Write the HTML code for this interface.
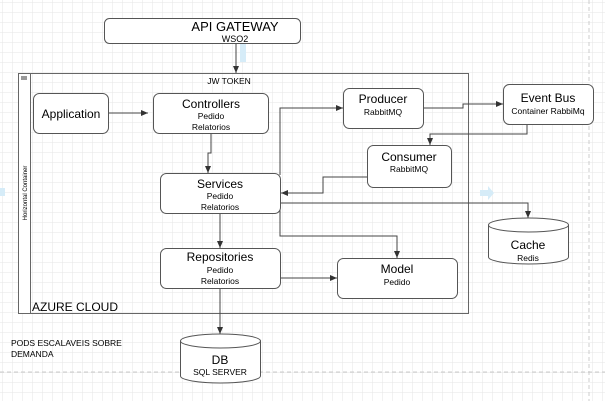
<!DOCTYPE html>
<html><head><style>
body{margin:0;background:#fff;}
svg{display:block;}
text{font-family:"Liberation Sans",sans-serif;fill:#000;}
</style></head><body>
<svg width="605" height="401" viewBox="0 0 605 401" xmlns="http://www.w3.org/2000/svg">
<defs>
<pattern id="g" width="10" height="10" patternUnits="userSpaceOnUse" x="3" y="3">
<path d="M10 0V10H0" fill="none" stroke="#e6e6e6" stroke-width="1"/>
</pattern>
<marker id="a" markerWidth="8" markerHeight="8" refX="7" refY="4" orient="auto" markerUnits="userSpaceOnUse">
<path d="M0,1 L7,4 L0,7 z" fill="#333"/>
</marker>
</defs>
<rect width="605" height="401" fill="url(#g)"/>
<line x1="0" y1="372" x2="605" y2="372" stroke="#ccc" stroke-dasharray="4,3"/>
<line x1="589" y1="0" x2="589" y2="401" stroke="#ccc" stroke-dasharray="4,3"/>
<path d="M480 190h8v-4l6 7-6 7v-4h-8z" fill="#d6ecf8"/>
<rect x="0" y="188" width="5" height="8" fill="#d6ecf8"/>
<rect x="240" y="44" width="6" height="18" fill="#d6ecf8"/>

<!-- container -->
<rect x="18.5" y="73.5" width="450" height="240" fill="none" stroke="#666"/>
<rect x="18.5" y="73.5" width="12" height="240" fill="#fff" stroke="#666"/>
<rect x="21" y="76" width="6" height="4" fill="#999"/>
<text transform="translate(27,193) rotate(-90)" font-size="6" text-anchor="middle">Horizontal Container</text>
<text x="32" y="311" font-size="12">AZURE CLOUD</text>
<text x="229" y="84" font-size="8.5" text-anchor="middle">JW TOKEN</text>

<!-- connectors -->
<g fill="none" stroke="#444" stroke-width="1">
<path d="M236 43V73" marker-end="url(#a)"/>
<path d="M108 113H148" marker-end="url(#a)"/>
<path d="M211 133V153H208V173" marker-end="url(#a)"/>
<path d="M280 175V108H343" marker-end="url(#a)"/>
<path d="M423 108H463V104H503" marker-end="url(#a)"/>
<path d="M527 124V134H430V145" marker-end="url(#a)"/>
<path d="M367 177H323V193H281" marker-end="url(#a)"/>
<path d="M280 203H528V218" marker-end="url(#a)"/>
<path d="M280 210V236H397V258" marker-end="url(#a)"/>
<path d="M220 213V248" marker-end="url(#a)"/>
<path d="M280 278H337" marker-end="url(#a)"/>
<path d="M220 288V334" marker-end="url(#a)"/>
</g>

<g fill="#fff" stroke="#555">
<rect x="104.5" y="18.5" width="196" height="25" rx="5"/>
<rect x="33.5" y="93.5" width="75" height="40" rx="6"/>
<rect x="153.5" y="93.5" width="115" height="40" rx="6"/>
<rect x="160.5" y="173.5" width="120" height="40" rx="6"/>
<rect x="343.5" y="88.5" width="80" height="40" rx="6"/>
<rect x="503.5" y="84.5" width="90" height="40" rx="6"/>
<rect x="367.5" y="145.5" width="84" height="42" rx="6"/>
<rect x="160.5" y="248.5" width="120" height="40" rx="6"/>
<rect x="337.5" y="258.5" width="120" height="40" rx="6"/>
<path d="M488.5 225V257A40 7 0 0 0 568.5 257V225"/>
<ellipse cx="528.5" cy="225" rx="40" ry="7"/>
<path d="M180.5 341V376A40 7 0 0 0 260.5 376V341"/>
<ellipse cx="220.5" cy="341" rx="40" ry="7"/>
</g>

<g text-anchor="middle">
<text x="235" y="31" font-size="13">API GATEWAY</text>
<text x="235" y="42" font-size="9">WSO2</text>
<text x="71" y="118" font-size="12">Application</text>
<text x="211" y="108" font-size="12">Controllers</text>
<text x="211" y="119" font-size="8.5">Pedido</text>
<text x="211" y="130" font-size="8.5">Relatorios</text>
<text x="220" y="188" font-size="12">Services</text>
<text x="220" y="199" font-size="8.5">Pedido</text>
<text x="220" y="210" font-size="8.5">Relatorios</text>
<text x="383" y="103" font-size="12">Producer</text>
<text x="383" y="115" font-size="8.5">RabbitMQ</text>
<text x="548" y="102" font-size="12">Event Bus</text>
<text x="548" y="114" font-size="8.5">Container RabbiMq</text>
<text x="409" y="161" font-size="12">Consumer</text>
<text x="409" y="172" font-size="8.5">RabbitMQ</text>
<text x="220" y="261" font-size="12">Repositories</text>
<text x="220" y="273" font-size="8.5">Pedido</text>
<text x="220" y="284" font-size="8.5">Relatorios</text>
<text x="397" y="273" font-size="12">Model</text>
<text x="397" y="285" font-size="8.5">Pedido</text>
<text x="528" y="249" font-size="12">Cache</text>
<text x="528" y="261" font-size="8.5">Redis</text>
<text x="220" y="364" font-size="12">DB</text>
<text x="220" y="375" font-size="8.5">SQL SERVER</text>
</g>
<text x="11" y="346" font-size="8.5">PODS ESCALAVEIS SOBRE</text>
<text x="11" y="357" font-size="8.5">DEMANDA</text>
</svg>
</body></html>
